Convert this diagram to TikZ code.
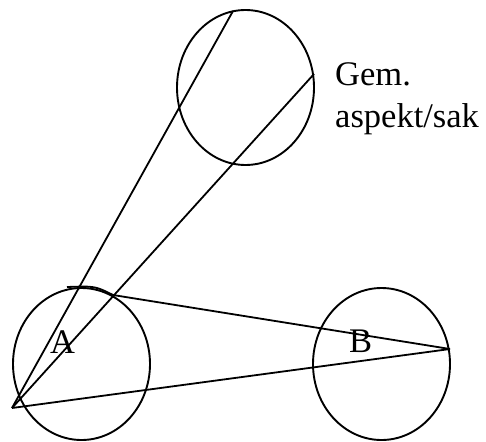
\documentclass[tikz,border=0pt]{standalone}
\usepackage{fontspec}
\setmainfont{Liberation Serif}
\usetikzlibrary{shapes.geometric}
\begin{document}
\begin{tikzpicture}[x=1pt,y=-1pt,
  ring/.style={draw,ellipse,line width=1.9pt,inner sep=0pt},
  ln/.style={line width=1.8pt},
  lbl/.style={font=\fontsize{34.5}{42}\selectfont,inner sep=0pt,anchor=base west}]
\useasboundingbox (0,0) rectangle (486,441);
\node[ring,minimum width=137pt,minimum height=155pt] (top) at (245.5,87.5) {};
\node[ring,minimum width=137pt,minimum height=152pt] (ca) at (81.5,364) {};
\node[ring,minimum width=137pt,minimum height=152pt] (cb) at (381.5,364) {};
\coordinate (apex) at (12,408);
\coordinate (t1) at (233,11);
\coordinate (t2) at (314,74);
\coordinate (bp) at (450,349);
\coordinate (s) at (67,287);
\draw[ln] (apex) -- (t1);
\draw[ln] (apex) -- (t2);
\draw[ln] (apex) -- (bp);
\draw[ln] (s) .. controls (95,286) .. (113,295) -- (bp);
\node[lbl] (la) at (50,353) {A};
\node[lbl] (lb) at (349,352) {B};
\node[lbl] (g1) at (335,85) {Gem.};
\node[lbl] (g2) at (335,127) {aspekt/sak};
\end{tikzpicture}
\end{document}
